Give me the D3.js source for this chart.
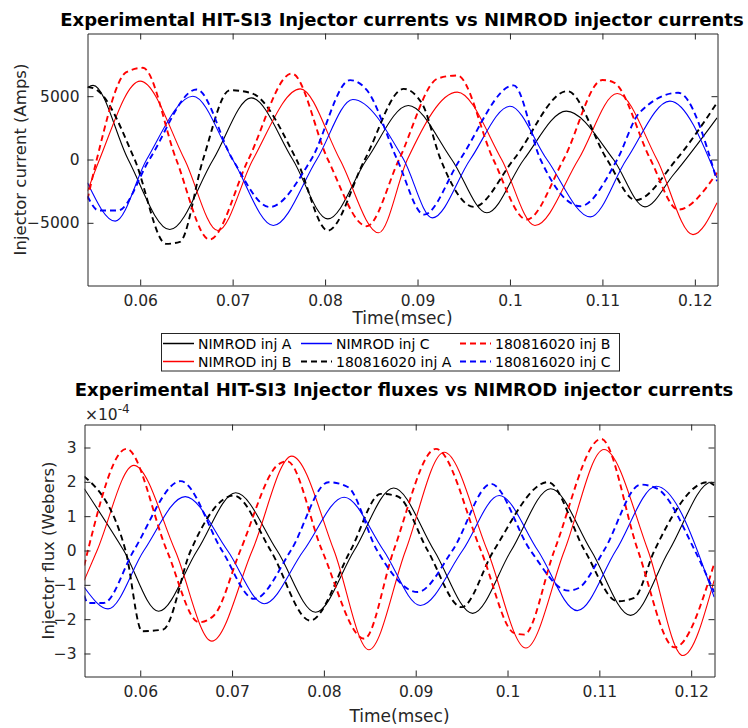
<!DOCTYPE html>
<html>
<head>
<meta charset="utf-8">
<script src="https://cdn.jsdelivr.net/npm/d3@7"></script>
<style>
  body { margin: 0; background: #fff; }
  svg { display: block; font-family: "DejaVu Sans", sans-serif; }
</style>
</head>
<body>
<svg width="748" height="728"></svg>
<script>
// ---- top panel: injector currents (Amps), [time msec, value]
const curNimA = [[0.0543,5660],[0.0549,5850],[0.0587,0],[0.0632,-5530],[0.0679,0],[0.0720,4870],[0.0765,0],[0.0803,-4690],[0.0845,0],[0.0890,4270],[0.0937,0],[0.0975,-4210],[0.1015,0],[0.1061,3820],[0.1112,0],[0.1146,-3740],[0.1177,-1185],[0.1224,3290]];
const curNimB = [[0.0543,-2500],[0.0556,0],[0.0600,6190],[0.0648,0],[0.0684,-5610],[0.0722,0],[0.0773,5580],[0.0816,0],[0.0858,-5790],[0.0889,0],[0.0943,5320],[0.0991,0],[0.1027,-5210],[0.1074,0],[0.1116,5210],[0.1159,0],[0.1198,-5930],[0.1224,-3420]];
const curNimC = [[0.0543,-1840],[0.0573,-4870],[0.0607,0],[0.0657,5000],[0.0700,0],[0.0744,-5210],[0.0791,0],[0.0830,4740],[0.0885,0],[0.0916,-4610],[0.0957,0],[0.1000,4210],[0.1040,0],[0.1087,-4530],[0.1126,0],[0.1173,4610],[0.1224,-1450]];
const curExpA = [[0.0543,5740],[0.0553,5500],[0.0594,0],[0.0628,-6660],[0.0643,-6500],[0.0668,0],[0.0697,5470],[0.0720,5250],[0.0769,0],[0.0803,-5610],[0.0843,0],[0.0885,5580],[0.0905,4400],[0.0925,0],[0.0961,-3740],[0.1004,0],[0.1062,5400],[0.1105,0],[0.1136,-3210],[0.1180,0],[0.1224,4480]];
const curExpB = [[0.0543,-3160],[0.0553,0],[0.0585,6900],[0.0603,7240],[0.0639,0],[0.0675,-6320],[0.0717,0],[0.0764,6790],[0.0803,0],[0.0845,-5270],[0.0880,0],[0.0922,6400],[0.0943,6640],[0.0982,0],[0.1018,-4740],[0.1058,0],[0.1100,6280],[0.1112,6100],[0.1152,0],[0.1182,-3950],[0.1224,-1050]];
const curExpC = [[0.0543,-2900],[0.0555,-4030],[0.0576,-4030],[0.0610,0],[0.0661,5530],[0.0700,0],[0.0740,-3750],[0.0785,0],[0.0827,6270],[0.0845,5500],[0.0878,0],[0.0907,-4350],[0.0946,0],[0.1004,5850],[0.1033,0],[0.1076,-3690],[0.1116,0],[0.1140,3690],[0.1182,5270],[0.1224,-1710]];

// ---- bottom panel: injector fluxes (x1e-4 Webers)
const fluxNimA = [[0.0539,1.80],[0.0582,0],[0.0620,-1.77],[0.0662,0],[0.0704,1.68],[0.0749,0],[0.0791,-1.80],[0.0833,0],[0.0876,1.82],[0.0920,0],[0.0962,-1.83],[0.1004,0],[0.1047,1.80],[0.1091,0],[0.1134,-1.89],[0.1176,0],[0.1222,1.99],[0.1225,1.97]];
const fluxNimB = [[0.0539,-0.87],[0.0553,0],[0.0593,2.48],[0.0638,0],[0.0678,-2.64],[0.0722,0],[0.0765,2.75],[0.0811,0],[0.0849,-2.89],[0.0889,0],[0.0931,2.86],[0.0978,0],[0.1020,-2.84],[0.1062,0],[0.1105,2.94],[0.1153,0],[0.1191,-3.06],[0.1225,-0.87]];
const fluxNimC = [[0.0539,-1.07],[0.0565,-1.70],[0.0604,0],[0.0649,1.57],[0.0695,0],[0.0735,-1.55],[0.0778,0],[0.0822,1.55],[0.0865,0],[0.0905,-1.60],[0.0951,0],[0.0991,1.60],[0.1033,0],[0.1076,-1.75],[0.1118,0],[0.1162,1.87],[0.1225,-1.36]];
const fluxExpA = [[0.0539,2.16],[0.0584,0],[0.0602,-2.35],[0.0625,-2.30],[0.0655,0],[0.0702,1.60],[0.0742,0],[0.0785,-2.04],[0.0829,0],[0.0862,1.65],[0.0880,1.58],[0.0913,0],[0.0950,-1.65],[0.0985,0],[0.1044,1.99],[0.1084,0],[0.1120,-1.48],[0.1138,-1.38],[0.1160,0],[0.1218,1.99],[0.1225,1.90]];
const fluxExpB = [[0.0539,-0.44],[0.0543,0],[0.0585,2.96],[0.0629,0],[0.0664,-2.09],[0.0680,-1.90],[0.0709,0],[0.0750,2.50],[0.0760,2.60],[0.0798,0],[0.0844,-2.57],[0.0876,0],[0.0922,2.96],[0.0971,0],[0.1007,-2.40],[0.1018,-2.45],[0.1051,0],[0.1102,3.25],[0.1142,0],[0.1182,-2.82],[0.1225,-0.39]];
const fluxExpC = [[0.0539,-1.31],[0.0543,-1.53],[0.0560,-1.53],[0.0593,0],[0.0644,2.02],[0.0689,0],[0.0724,-1.41],[0.0764,0],[0.0805,1.99],[0.0826,1.85],[0.0858,0],[0.0902,-1.21],[0.0940,0],[0.0982,1.94],[0.1025,0],[0.1066,-1.17],[0.1077,-1.10],[0.1105,0],[0.1145,1.92],[0.1163,1.80],[0.1204,0],[0.1225,-1.21]];

const xTicks = [0.06, 0.07, 0.08, 0.09, 0.1, 0.11, 0.12];
const curTicks = [-5000, 0, 5000];
const fluxTicks = [-3, -2, -1, 0, 1, 2, 3];
const legendNames = ["NIMROD inj A", "NIMROD inj B", "NIMROD inj C", "180816020 inj A", "180816020 inj B", "180816020 inj C"];
const seriesColors = ["#000000", "#ff0000", "#0000ff", "#000000", "#ff0000", "#0000ff"];

const svg = d3.select("svg");
svg.append("rect").attr("width", 748).attr("height", 728).attr("fill", "#fff");

const axisCol = "#262626";

const drawPanel = (cfg) => {
  const x = d3.scaleLinear().domain(cfg.xDomain).range([cfg.left, cfg.right]);
  const y = d3.scaleLinear().domain(cfg.yDomain).range([cfg.bottom, cfg.top]);

  const clipId = "clip" + cfg.id;
  svg.append("clipPath").attr("id", clipId)
    .append("rect")
    .attr("x", cfg.left).attr("y", cfg.top)
    .attr("width", cfg.right - cfg.left).attr("height", cfg.bottom - cfg.top);

  const line = d3.line()
    .x((d) => x(d[0]))
    .y((d) => y(d[1]))
    .curve(d3.curveMonotoneX);

  const plot = svg.append("g").attr("clip-path", `url(#${clipId})`);
  cfg.series.forEach((s, i) => {
    plot.append("path")
      .datum(s)
      .attr("fill", "none")
      .attr("stroke", seriesColors[i])
      .attr("stroke-width", i < 3 ? 1.1 : 1.9)
      .attr("stroke-dasharray", i < 3 ? null : "6,4")
      .attr("d", line);
  });

  // axes, ticks pointing inward
  const tl = 6;
  const xb = svg.append("g").attr("transform", `translate(0,${cfg.bottom})`)
    .call(d3.axisBottom(x).tickValues(xTicks).tickSizeInner(-tl).tickSizeOuter(0).tickPadding(9).tickFormat(d3.format("")));
  const xt = svg.append("g").attr("transform", `translate(0,${cfg.top})`)
    .call(d3.axisTop(x).tickValues(xTicks).tickSizeInner(-tl).tickSizeOuter(0).tickFormat(""));
  const yl = svg.append("g").attr("transform", `translate(${cfg.left},0)`)
    .call(d3.axisLeft(y).tickValues(cfg.yTicks).tickSizeInner(-tl).tickSizeOuter(0).tickPadding(8).tickFormat(d3.format("")));
  const yr = svg.append("g").attr("transform", `translate(${cfg.right},0)`)
    .call(d3.axisRight(y).tickValues(cfg.yTicks).tickSizeInner(-tl).tickSizeOuter(0).tickFormat(""));
  [xb, xt, yl, yr].forEach((g) => {
    g.selectAll(".domain").attr("stroke", axisCol).attr("stroke-width", 1);
    g.selectAll(".tick line").attr("stroke", axisCol);
    g.selectAll("text").attr("fill", axisCol).style("font-size", "15.5px").attr("font-family", "DejaVu Sans");
  });

  // title
  svg.append("text")
    .attr("x", cfg.titleX).attr("y", cfg.titleY)
    .attr("text-anchor", "middle")
    .style("font-size", "18px").style("font-weight", "bold")
    .attr("fill", "#000")
    .text(cfg.title);

  // x label
  svg.append("text")
    .attr("x", (cfg.left + cfg.right) / 2).attr("y", cfg.xLabelY)
    .attr("text-anchor", "middle")
    .style("font-size", "17px").attr("fill", axisCol)
    .text("Time(msec)");

  // y label
  svg.append("text")
    .attr("transform", `translate(${cfg.yLabelX},${(cfg.top + cfg.bottom) / 2}) rotate(-90)`)
    .attr("text-anchor", "middle")
    .style("font-size", "16.5px").attr("fill", axisCol)
    .text(cfg.yLabel);
};

drawPanel({
  id: "a",
  left: 87.5, right: 717.5, top: 33.5, bottom: 285.5,
  xDomain: [0.0543, 0.12245],
  yDomain: [-9950, 9950],
  yTicks: curTicks,
  series: [curNimA, curNimB, curNimC, curExpA, curExpB, curExpC],
  title: "Experimental HIT-SI3 Injector currents vs NIMROD injector currents",
  titleX: 402, titleY: 26,
  xLabelY: 324,
  yLabelX: 26,
  yLabel: "Injector current (Amps)",
});

drawPanel({
  id: "b",
  left: 84.5, right: 714.5, top: 424.5, bottom: 676.5,
  xDomain: [0.05393, 0.12254],
  yDomain: [-3.67, 3.67],
  yTicks: fluxTicks,
  series: [fluxNimA, fluxNimB, fluxNimC, fluxExpA, fluxExpB, fluxExpC],
  title: "Experimental HIT-SI3 Injector fluxes vs NIMROD injector currents",
  titleX: 404, titleY: 396,
  xLabelY: 722,
  yLabelX: 54,
  yLabel: "Injector flux (Webers)",
});

// exponent label for the flux axis
const expo = svg.append("text").attr("x", 85).attr("y", 420)
  .style("font-size", "15.5px").attr("fill", axisCol);
expo.append("tspan").text("\u00d710");
expo.append("tspan").attr("dy", -7).style("font-size", "12px").text("-4");

// legend, filled column by column (2 rows x 3 columns)
const legend = svg.append("g");
legend.append("rect")
  .attr("x", 161.5).attr("y", 333.5).attr("width", 458).attr("height", 37.5)
  .attr("fill", "#fff").attr("stroke", axisCol).attr("stroke-width", 1);
const colX = [163, 301, 460];
const rowY = [343.5, 361.5];
legendNames.forEach((name, i) => {
  const c = Math.floor(i / 2);
  const r = i % 2;
  legend.append("line")
    .attr("x1", colX[c]).attr("x2", colX[c] + 31)
    .attr("y1", rowY[r]).attr("y2", rowY[r])
    .attr("stroke", seriesColors[i])
    .attr("stroke-width", i < 3 ? 1.5 : 1.9)
    .attr("stroke-dasharray", i < 3 ? null : "6,4");
  legend.append("text")
    .attr("x", colX[c] + 35).attr("y", rowY[r] + 5)
    .style("font-size", "14px").attr("fill", "#000")
    .text(name);
});
</script>
</body>
</html>
